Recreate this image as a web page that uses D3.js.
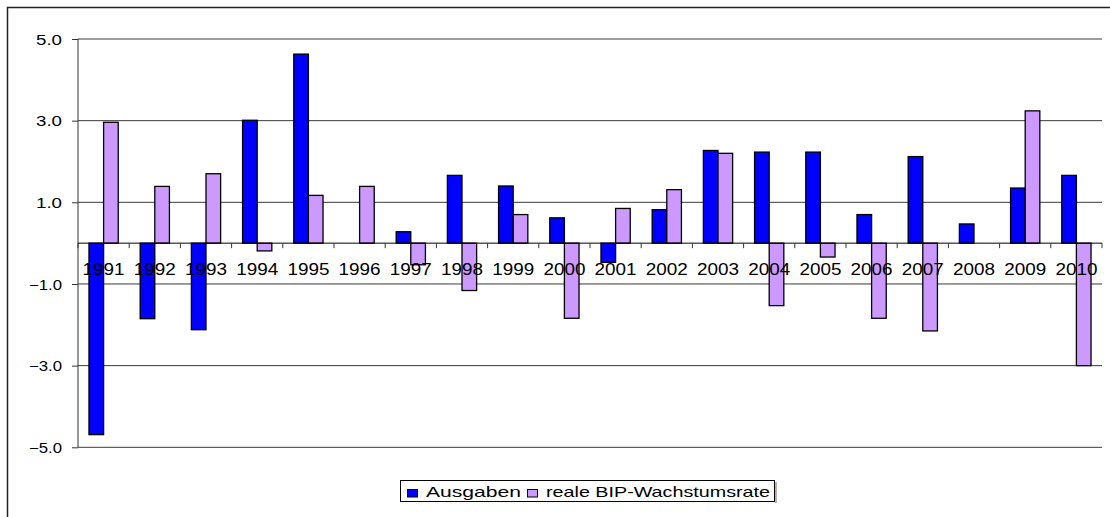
<!DOCTYPE html>
<html><head><meta charset="utf-8">
<script src="https://cdn.jsdelivr.net/npm/d3@7"></script>
<style>
html,body{margin:0;padding:0;background:#fff;}
svg{display:block;}
text{font-family:"Liberation Sans",Arial,sans-serif;fill:#000;}
</style></head>
<body>
<svg id="chart" width="1110" height="517"></svg>
<script>
const years = ["1991","1992","1993","1994","1995","1996","1997","1998","1999","2000","2001","2002","2003","2004","2005","2006","2007","2008","2009","2010"];
const ausgaben = [-4.69,-1.85,-2.12,3.01,4.63,0,0.28,1.66,1.40,0.62,-0.47,0.82,2.27,2.23,2.23,0.70,2.12,0.47,1.35,1.66];
const bipRate = [2.96,1.39,1.70,-0.19,1.17,1.39,-0.53,-1.16,0.70,-1.84,0.85,1.31,2.20,-1.53,-0.34,-1.84,-2.15,0,3.24,-3.00];
const seriesNames = ["Ausgaben","reale BIP-Wachstumsrate"];
const seriesColors = ["#0000FF","#CC99FF"];
const yTicks = [5,3,1,-1,-3,-5];

const svg = d3.select("#chart");
const L = 78, R = 1102, T = 39, B = 447.3;

// outer frame
svg.append("rect").attr("x",7.5).attr("y",7.5).attr("width",1120).attr("height",530)
  .attr("fill","none").attr("stroke","#222").attr("stroke-width",1.5);

const y = d3.scaleLinear().domain([-5,5]).range([B,T]);
const p = 1 - 2/3.5;
const x0 = d3.scaleBand().domain(years).range([L,R]).paddingInner(p).paddingOuter(p/2);
const x1 = d3.scaleBand().domain([0,1]).range([0,x0.bandwidth()]).padding(0);
const step = x0.step();

// gridlines
svg.append("g").selectAll("line").data(yTicks).join("line")
  .attr("x1",L).attr("x2",R).attr("y1",d=>y(d)).attr("y2",d=>y(d))
  .attr("stroke","#3a3a3a").attr("stroke-width",1);

// y axis
const yAxis = d3.axisLeft(y).tickValues(yTicks).tickSize(6).tickPadding(10).tickFormat(d3.format(".1f"));
const ya = svg.append("g").attr("transform",`translate(${L},0)`).call(yAxis);
ya.select(".domain").attr("stroke","#333").attr("d",`M0,${T}V${B}`);
ya.selectAll(".tick line").attr("stroke","#333");
ya.selectAll(".tick text").attr("font-size",14.5).attr("dy","0.36em")
  .attr("font-family","Liberation Sans, Arial, sans-serif").attr("fill","#000")
  .attr("x",-16)
  .each(function(d){ const t=d3.select(this); t.attr("textLength", d<0?33:26).attr("lengthAdjust","spacingAndGlyphs"); });

// bars
const groups = svg.append("g").selectAll("g").data(years).join("g")
  .attr("transform",d=>`translate(${x0(d)},0)`);
groups.selectAll("rect").data((d,i)=>[ausgaben[i],bipRate[i]].map((v,k)=>({v,k}))).join("rect")
  .attr("x",d=>x1(d.k)).attr("width",x1.bandwidth())
  .attr("y",d=>y(Math.max(0,d.v))).attr("height",d=>Math.abs(y(d.v)-y(0)))
  .attr("fill",d=>seriesColors[d.k]).attr("stroke","#000").attr("stroke-width",1.3);

// zero axis with ticks at category boundaries
const xAxisG = svg.append("g").attr("transform",`translate(0,${y(0)})`);
xAxisG.append("line").attr("x1",L).attr("x2",R).attr("y1",0).attr("y2",0).attr("stroke","#000").attr("stroke-width",1);
xAxisG.selectAll("line.tk").data(d3.range(years.length+1)).join("line").attr("class","tk")
  .attr("x1",i=>L+i*step).attr("x2",i=>L+i*step).attr("y1",0).attr("y2",5).attr("stroke","#333");
xAxisG.selectAll("text").data(years).join("text")
  .attr("x",d=>x0(d)+x0.bandwidth()/2).attr("y",32).attr("text-anchor","middle")
  .attr("font-size",16).attr("textLength",42).attr("lengthAdjust","spacingAndGlyphs")
  .text(d=>d);

// legend
const lg = svg.append("g");
lg.append("rect").attr("x",400.5).attr("y",480.5).attr("width",374).attr("height",21)
  .attr("fill","#fff").attr("stroke","#000").attr("stroke-width",1);
lg.append("line").attr("x1",776).attr("x2",776).attr("y1",482).attr("y2",503).attr("stroke","#999").attr("stroke-width",1.5);
const legendItems = [
  {sx:407.5, tx:426, tl:95},
  {sx:527.5, tx:546, tl:224}
];
legendItems.forEach((it,k)=>{
  lg.append("rect").attr("x",it.sx).attr("y",489.5).attr("width",10).attr("height",7.5)
    .attr("fill",seriesColors[k]).attr("stroke","#000").attr("stroke-width",1);
  lg.append("text").attr("x",it.tx).attr("y",497).attr("font-size",14.5)
    .attr("textLength",it.tl).attr("lengthAdjust","spacingAndGlyphs").text(seriesNames[k]);
});
</script>
</body></html>
